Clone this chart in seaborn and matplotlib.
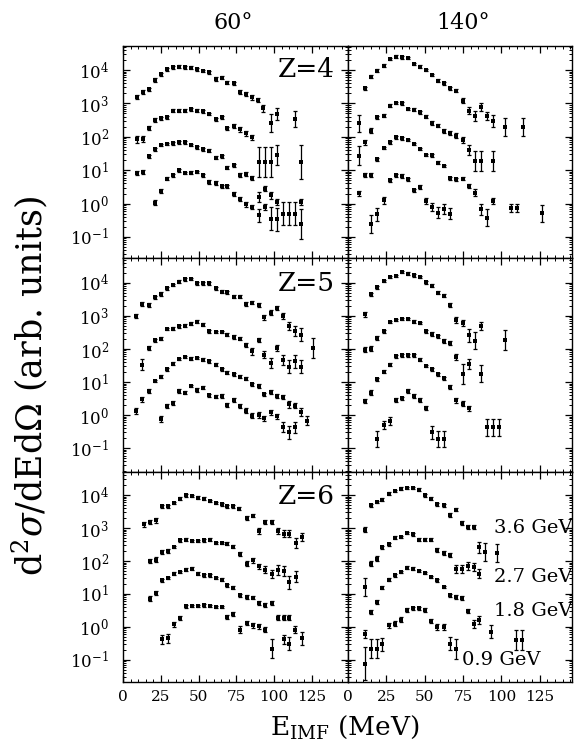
import numpy as np
import pandas as pd
import matplotlib
matplotlib.use("Agg")
import matplotlib.pyplot as plt
import seaborn as sns
from matplotlib.ticker import FixedLocator, MultipleLocator, NullFormatter, LogFormatterSciNotation

# ---------------- data (energies in MeV, values as log10 of cross section, errors in log10 units)
BEAMS = ["3.6 GeV", "2.7 GeV", "1.8 GeV", "0.9 GeV"]
ANGLES = ["60°", "140°"]
ZLABELS = ["Z=4", "Z=5", "Z=6"]
X_TICKS = [0, 25, 50, 75, 100, 125]
Y_TICKS = [1e-1, 1e0, 1e1, 1e2, 1e3, 1e4]

# Z=4, 60 deg
Z4_60_E = [
    [9.5, 13.3, 17.3, 21.5, 25.4, 29.4, 33.2, 37.2, 41.2, 45.0, 49.0, 53.0, 57.0, 61.3, 65.3, 69.2, 73.2, 77.4, 81.4, 85.4, 89.3, 93.0, 98.0, 101.8, 113.9],
    [9.5, 13.3, 17.3, 21.5, 25.4, 29.4, 33.2, 37.2, 41.2, 45.0, 49.0, 53.0, 57.0, 61.3, 65.3, 69.2, 73.2, 77.4, 81.4, 85.4],
    [9.5, 13.3, 17.3, 21.5, 25.4, 29.4, 33.2, 37.2, 41.2, 45.0, 49.0, 53.0, 57.0, 61.3, 65.3, 69.2, 73.2, 77.4, 81.4, 85.4, 89.8, 94.0, 98.0, 101.8, 117.9],
    [21.5, 25.4, 29.4, 33.2, 37.2, 41.2, 45.0, 49.0, 53.0, 57.0, 61.3, 65.3, 69.2, 73.2, 77.4, 81.4, 85.4, 89.8, 89.8, 94.0, 94.0, 98.0, 98.0, 101.8, 101.8, 106.2, 110.2, 114.2, 118.0, 118.0],
]
Z4_60_L = [
    [3.18, 3.33, 3.42, 3.70, 3.87, 4.02, 4.08, 4.10, 4.08, 4.07, 4.02, 3.97, 3.93, 3.73, 3.77, 3.62, 3.60, 3.33, 3.27, 3.18, 3.10, 2.85, 2.40, 2.68, 2.53],
    [1.92, 1.93, 2.25, 2.50, 2.55, 2.58, 2.78, 2.78, 2.78, 2.82, 2.78, 2.76, 2.68, 2.52, 2.58, 2.25, 2.32, 2.22, 2.10, 1.98],
    [0.92, 0.95, 1.42, 1.62, 1.75, 1.78, 1.80, 1.83, 1.83, 1.75, 1.68, 1.62, 1.58, 1.38, 1.42, 1.08, 1.15, 0.85, 0.90, 0.78, 1.25, 1.25, 1.25, 1.45, 1.25],
    [0.03, 0.38, 0.75, 0.85, 1.00, 0.92, 0.93, 0.95, 0.85, 0.65, 0.62, 0.52, 0.52, 0.28, 0.15, -0.02, -0.10, 0.20, -0.35, 0.45, -0.10, 0.25, -0.45, 0.05, -0.47, -0.30, -0.30, -0.30, 0.05, -0.60],
]
Z4_60_D = [
    [.06, .06, .05, .05, .04, .04, .04, .04, .04, .04, .04, .04, .04, .05, .05, .05, .05, .06, .06, .07, .07, .1, .27, .17, .23],
    [.1, .1, .06, .05, .05, .05, .04, .04, .04, .04, .04, .04, .04, .05, .05, .05, .05, .07, .07, .08],
    [.06, .06, .04, .04, .04, .04, .04, .04, .04, .04, .04, .04, .04, .04, .04, .05, .05, .06, .06, .06, .45, .45, .45, .3, .5],
    [.08, .06, .04, .04, .04, .04, .04, .04, .04, .05, .05, .05, .05, .06, .06, .07, .07, .15, .2, .07, .1, .1, .35, .1, .35, .35, .35, .35, .1, .45],
]

# Z=4, 140 deg
Z4_140_E = [
    [11.3, 15.2, 19.0, 23.2, 27.1, 31.0, 35.1, 39.0, 42.9, 47.0, 50.9, 54.8, 58.9, 62.8, 66.7, 70.6, 74.7, 78.6, 82.5, 86.6, 90.5, 94.4, 102.2, 114.3],
    [7.1, 11.3, 15.2, 19.0, 23.2, 27.1, 31.0, 35.1, 39.0, 42.9, 47.0, 50.9, 54.8, 58.9, 62.8, 66.7, 70.6, 74.7, 78.6, 82.5, 86.6, 94.4],
    [7.1, 11.3, 15.2, 19.0, 23.2, 27.1, 31.0, 35.1, 39.0, 42.9, 47.0, 50.9, 54.8, 58.9, 62.8, 66.7, 70.6, 74.7, 78.6, 82.5],
    [7.1, 15.2, 19.0, 23.2, 27.1, 31.0, 35.1, 39.0, 42.9, 47.0, 50.9, 54.8, 58.9, 62.8, 66.7, 86.6, 90.5, 94.4, 106.1, 110.4, 126.2],
]
Z4_140_L = [
    [3.45, 3.80, 3.98, 4.13, 4.33, 4.40, 4.38, 4.36, 4.18, 4.10, 4.00, 3.85, 3.68, 3.60, 3.45, 3.38, 3.08, 2.78, 2.63, 2.88, 2.63, 2.48, 2.30, 2.28],
    [2.40, 1.83, 2.18, 2.58, 2.63, 2.93, 3.01, 3.00, 2.83, 2.81, 2.73, 2.60, 2.41, 2.33, 2.16, 2.10, 2.03, 1.90, 1.60, 1.28, 1.28, 1.28],
    [1.43, 0.85, 0.85, 1.33, 1.66, 1.83, 1.98, 1.95, 1.90, 1.78, 1.63, 1.46, 1.45, 1.23, 1.13, 0.76, 0.73, 0.75, 0.53, 0.33],
    [0.31, -0.62, -0.32, 0.10, 0.70, 0.85, 0.83, 0.73, 0.40, 0.50, 0.08, -0.09, -0.27, -0.17, -0.30, -0.17, -0.42, 0.08, -0.12, -0.12, -0.29],
]
Z4_140_D = [
    [.05, .04, .04, .04, .04, .04, .04, .04, .04, .04, .04, .04, .04, .04, .05, .05, .07, .1, .15, .12, .12, .18, .27, .27],
    [.25, .08, .07, .05, .05, .04, .04, .04, .04, .04, .04, .05, .05, .05, .06, .06, .07, .1, .15, .3, .3, .3],
    [.28, .06, .06, .04, .04, .04, .04, .04, .04, .04, .04, .04, .04, .04, .04, .05, .05, .05, .07, .1],
    [.08, .27, .2, .1, .05, .05, .05, .05, .05, .05, .1, .12, .17, .15, .17, .17, .25, .1, .12, .12, .25],
]

# Z=5, 60 deg
Z5_60_E = [
    [8.8, 12.8, 17.3, 21.0, 25.0, 29.4, 33.2, 37.2, 41.2, 44.9, 49.1, 53.1, 56.9, 61.3, 65.3, 69.2, 73.2, 77.4, 81.4, 85.4, 89.8, 93.4, 98.0, 101.8, 106.0, 110.0, 113.9, 117.9, 126.1],
    [12.8, 17.3, 21.0, 25.0, 29.4, 33.2, 37.2, 41.2, 44.9, 49.1, 53.1, 56.9, 61.3, 65.3, 69.2, 73.2, 77.4, 81.4, 85.4, 89.8, 93.4, 98.0, 101.8, 106.0, 110.0, 113.9, 117.9],
    [8.8, 12.8, 17.3, 21.0, 25.0, 29.4, 33.2, 37.2, 41.2, 44.9, 49.1, 53.1, 56.9, 61.3, 65.3, 69.2, 73.2, 77.4, 81.4, 85.4, 89.8, 93.4, 98.0, 101.8, 106.0, 110.0, 113.9, 117.9, 121.7],
    [25.0, 29.4, 33.2, 37.2, 41.2, 44.9, 49.1, 53.1, 56.9, 61.3, 65.3, 69.2, 73.2, 77.4, 81.4, 85.4, 89.8, 93.4, 98.0, 101.8, 106.0, 110.0, 113.9],
]
Z5_60_L = [
    [3.00, 3.36, 3.33, 3.56, 3.66, 3.83, 3.93, 4.03, 4.10, 4.11, 3.98, 3.98, 3.98, 3.83, 3.73, 3.71, 3.58, 3.58, 3.36, 3.40, 3.33, 2.96, 3.10, 3.23, 3.00, 2.68, 2.53, 2.43, 2.03],
    [1.53, 2.03, 2.26, 2.31, 2.60, 2.61, 2.68, 2.70, 2.76, 2.83, 2.73, 2.53, 2.51, 2.51, 2.43, 2.36, 2.31, 2.13, 1.93, 2.26, 1.83, 1.58, 2.03, 1.68, 1.46, 1.63, 1.46],
    [0.13, 0.48, 0.73, 1.03, 1.16, 1.38, 1.56, 1.70, 1.76, 1.71, 1.73, 1.68, 1.63, 1.53, 1.38, 1.28, 1.23, 1.16, 1.10, 0.93, 0.88, 0.63, 0.71, 0.58, 0.56, 0.33, 0.28, 0.10, -0.17],
    [-0.12, 0.28, 0.36, 0.73, 0.68, 0.88, 0.76, 0.83, 0.60, 0.56, 0.58, 0.30, 0.46, 0.28, 0.13, -0.02, 0.00, -0.10, 0.08, -0.04, -0.37, -0.52, -0.37],
]
Z5_60_D = [
    [.06, .06, .06, .05, .05, .04, .04, .04, .04, .04, .04, .04, .04, .04, .04, .05, .05, .05, .05, .05, .05, .08, .07, .06, .08, .12, .15, .2, .3],
    [.18, .06, .05, .05, .04, .04, .04, .04, .04, .04, .04, .04, .04, .04, .05, .05, .05, .06, .1, .06, .1, .15, .08, .15, .2, .2, .2],
    [.1, .07, .05, .04, .04, .04, .04, .04, .04, .04, .04, .04, .04, .04, .04, .04, .04, .04, .04, .05, .05, .05, .06, .06, .06, .1, .08, .12, .13],
    [.1, .06, .06, .05, .05, .04, .05, .05, .05, .05, .05, .06, .06, .06, .08, .08, .08, .08, .08, .08, .15, .2, .16],
]

# Z=5, 140 deg
Z5_140_E = [
    [11.3, 15.2, 19.0, 23.2, 27.1, 31.0, 35.1, 39.0, 42.9, 47.0, 50.9, 54.8, 58.9, 62.8, 66.7, 70.6, 74.7, 78.6, 82.5, 86.6, 102.2],
    [11.3, 15.2, 19.0, 23.2, 27.1, 31.0, 35.1, 39.0, 42.9, 47.0, 50.9, 54.8, 58.9, 62.8, 66.7, 70.6, 74.7, 78.6, 86.6],
    [11.3, 15.2, 19.0, 23.2, 27.1, 31.0, 35.1, 39.0, 42.9, 47.0, 50.9, 54.8, 58.9, 62.8, 66.7, 70.6, 74.7, 78.6],
    [19.0, 23.2, 27.1, 31.0, 35.1, 39.0, 42.9, 47.0, 50.9, 54.8, 58.9, 62.8, 90.5, 94.4, 98.3],
]
Z5_140_L = [
    [3.05, 3.65, 3.86, 4.05, 4.18, 4.21, 4.33, 4.28, 4.23, 4.18, 4.01, 3.91, 3.70, 3.61, 3.33, 2.88, 2.78, 2.41, 2.25, 2.68, 2.26],
    [1.98, 2.01, 2.33, 2.53, 2.81, 2.88, 2.91, 2.91, 2.83, 2.78, 2.53, 2.45, 2.38, 2.23, 2.18, 1.76, 1.25, 1.55, 1.25],
    [0.43, 0.68, 1.08, 1.31, 1.53, 1.78, 1.81, 1.81, 1.81, 1.68, 1.48, 1.38, 1.23, 1.11, 0.85, 0.45, 0.35, 0.20],
    [-0.72, -0.29, -0.17, 0.45, 0.51, 0.73, 0.58, 0.45, 0.21, -0.52, -0.72, -0.72, -0.37, -0.37, -0.37],
]
Z5_140_D = [
    [.08, .05, .04, .04, .04, .04, .04, .04, .04, .04, .04, .04, .05, .05, .06, .1, .1, .2, .25, .12, .3],
    [.07, .07, .05, .05, .04, .04, .04, .04, .04, .04, .05, .05, .05, .06, .06, .1, .3, .15, .25],
    [.07, .07, .04, .04, .04, .04, .04, .04, .04, .04, .04, .04, .04, .04, .06, .07, .08, .08],
    [.25, .12, .12, .06, .05, .05, .06, .06, .07, .2, .25, .25, .25, .25, .25],
]

# Z=6, 60 deg
Z6_60_E = [
    [14.1, 18.0, 21.8, 25.7, 29.9, 33.8, 37.6, 41.5, 45.5, 49.7, 53.6, 57.6, 61.3, 65.3, 69.0, 73.0, 76.7, 82.2, 85.9, 90.3, 94.3, 98.7, 102.4, 106.4, 110.1, 114.5, 118.5],
    [18.0, 21.8, 25.7, 29.9, 33.8, 37.6, 41.5, 45.5, 49.7, 53.6, 57.6, 61.3, 65.3, 69.0, 73.0, 77.8, 82.2, 85.9, 90.3, 94.3, 98.7, 102.4, 106.4, 110.1, 114.5],
    [18.0, 21.8, 25.7, 29.9, 33.8, 37.6, 41.5, 45.5, 49.7, 53.6, 57.6, 61.3, 65.3, 69.0, 73.0, 77.8, 82.2, 85.9, 90.3, 94.3, 98.7],
    [25.7, 29.9, 33.8, 37.6, 41.5, 45.5, 49.7, 53.6, 57.6, 61.3, 65.3, 69.0, 73.0, 77.8, 82.2, 85.9, 90.3, 94.3, 98.7, 102.4, 106.4, 106.4, 110.1, 110.1, 114.1, 118.5],
]
Z6_60_L = [
    [3.11, 3.18, 3.23, 3.66, 3.66, 3.76, 3.89, 3.99, 3.97, 3.92, 3.89, 3.82, 3.76, 3.72, 3.66, 3.66, 3.59, 3.31, 3.38, 2.91, 3.18, 3.18, 2.91, 2.83, 2.83, 2.55, 2.73],
    [2.00, 2.04, 2.27, 2.30, 2.42, 2.63, 2.65, 2.61, 2.61, 2.63, 2.65, 2.55, 2.55, 2.53, 2.44, 2.20, 1.92, 2.02, 1.84, 1.74, 1.60, 1.74, 1.70, 1.36, 1.52],
    [0.86, 1.03, 1.41, 1.49, 1.62, 1.67, 1.74, 1.77, 1.62, 1.57, 1.57, 1.49, 1.43, 1.26, 1.19, 0.96, 0.91, 0.89, 0.73, 0.66, 0.73],
    [-0.38, -0.35, 0.08, 0.28, 0.63, 0.63, 0.63, 0.66, 0.63, 0.61, 0.61, 0.30, 0.38, -0.08, 0.12, 0.05, 0.02, -0.08, -0.66, 0.28, 0.28, -0.38, 0.28, -0.51, -0.08, -0.35],
]
Z6_60_D = [
    [.07, .07, .07, .05, .05, .04, .04, .04, .04, .04, .04, .04, .04, .04, .04, .04, .05, .06, .06, .1, .06, .06, .08, .1, .1, .15, .13],
    [.07, .07, .05, .05, .04, .04, .04, .04, .04, .04, .04, .04, .04, .04, .05, .06, .07, .07, .08, .1, .12, .15, .15, .2, .17],
    [.07, .06, .05, .04, .04, .04, .04, .04, .04, .04, .04, .04, .04, .05, .05, .05, .05, .05, .06, .06, .06],
    [.15, .15, .08, .06, .05, .04, .04, .04, .04, .04, .04, .06, .06, .1, .07, .07, .07, .08, .28, .08, .08, .15, .08, .2, .1, .2],
]

# Z=6, 140 deg
Z6_140_E = [
    [10.8, 14.9, 18.8, 22.4, 26.7, 30.6, 34.5, 38.6, 42.5, 46.3, 50.4, 54.3, 58.2, 62.3, 66.2, 70.5, 74.1, 78.0, 81.9, 85.6, 89.4, 97.4],
    [14.9, 18.8, 22.4, 26.7, 30.6, 34.5, 38.6, 42.5, 46.3, 50.4, 54.3, 58.2, 62.3, 66.2, 70.5, 74.1, 78.0, 81.9, 85.6],
    [10.8, 14.9, 18.8, 22.4, 26.7, 30.6, 34.5, 38.6, 42.5, 46.3, 50.4, 54.3, 58.2, 62.3, 66.2, 70.5, 74.1, 78.0, 81.9, 85.6, 93.5, 109.3, 113.6],
    [10.8, 10.8, 14.9, 18.8, 22.4, 26.7, 30.6, 34.5, 38.6, 42.5, 46.3, 50.4, 54.3, 58.2, 62.3, 66.2, 70.5],
]
Z6_140_L = [
    [2.95, 3.69, 3.79, 3.86, 4.04, 4.12, 4.19, 4.22, 4.22, 4.16, 3.99, 3.89, 3.72, 3.69, 3.40, 3.56, 3.15, 3.03, 3.03, 2.42, 2.27, 2.24],
    [1.92, 2.07, 2.42, 2.51, 2.71, 2.73, 2.85, 2.81, 2.65, 2.65, 2.65, 2.32, 2.24, 2.17, 1.77, 1.77, 1.84, 1.82, 1.62],
    [1.21, 0.45, 0.76, 1.19, 1.43, 1.57, 1.67, 1.80, 1.77, 1.70, 1.64, 1.52, 1.41, 1.21, 0.96, 0.91, 0.89, 0.48, 0.08, 0.22, -0.15, -0.40, -0.40],
    [-0.22, -1.11, -0.66, -0.66, -0.53, 0.05, 0.10, 0.22, 0.51, 0.56, 0.56, 0.51, 0.18, 0.00, 0.00, -0.51, -0.66],
]
Z6_140_D = [
    [.07, .04, .04, .04, .04, .04, .04, .04, .04, .04, .04, .04, .04, .04, .05, .05, .07, .07, .07, .17, .28, .28],
    [.07, .07, .05, .05, .04, .04, .04, .04, .04, .04, .04, .06, .06, .06, .12, .12, .12, .12, .15],
    [.27, .06, .05, .04, .04, .04, .04, .04, .04, .04, .04, .04, .04, .04, .05, .05, .06, .06, .12, .12, .2, .3, .3],
    [.12, .5, .28, .28, .2, .08, .07, .07, .05, .05, .05, .05, .07, .1, .1, .2, .3],
]

PANELS = [
    [(Z4_60_E, Z4_60_L, Z4_60_D), (Z4_140_E, Z4_140_L, Z4_140_D)],
    [(Z5_60_E, Z5_60_L, Z5_60_D), (Z5_140_E, Z5_140_L, Z5_140_D)],
    [(Z6_60_E, Z6_60_L, Z6_60_D), (Z6_140_E, Z6_140_L, Z6_140_D)],
]

# ---------------- style
sns.set_style("ticks")
plt.rcParams["font.family"] = ["DejaVu Serif"]
plt.rcParams["mathtext.fontset"] = "dejavuserif"
plt.rcParams["axes.linewidth"] = 1.0
for key in ["text.color", "axes.labelcolor", "xtick.color", "ytick.color", "axes.edgecolor"]:
    plt.rcParams[key] = "black"

fig = plt.figure(figsize=(5.75, 7.46), dpi=100)
gs = fig.add_gridspec(3, 2, left=123 / 575, right=572 / 575, top=1 - 46 / 746, bottom=1 - 682 / 746,
                      hspace=0, wspace=0, height_ratios=[212, 214, 210], width_ratios=[225, 224])

ROW_YLIM = [(-1.63, 4.72), (-1.72, 4.75), (-1.67, 4.70)]
COL_XLIM = [(0, 149), (0, 146)]
Z_YPOS = [0.887, 0.883, 0.881]

minor_y = [m * 10.0 ** k for k in range(-2, 5) for m in range(2, 10)]

for r in range(3):
    for c in range(2):
        ax = fig.add_subplot(gs[r, c])
        E, L, D = PANELS[r][c]
        rows = []
        for s in range(4):
            for e, l, d in zip(E[s], L[s], D[s]):
                rows.append({"E": e, "y": 10 ** l, "lo": 10 ** (l - d), "hi": 10 ** (l + d), "beam": BEAMS[s]})
        df = pd.DataFrame(rows)
        ax.errorbar(df["E"], df["y"], yerr=[df["y"] - df["lo"], df["hi"] - df["y"]], fmt="none",
                    ecolor="black", elinewidth=0.9, capsize=1.7, capthick=0.9, zorder=2)
        sns.scatterplot(data=df, x="E", y="y", ax=ax, color="black", marker="s", s=7,
                        linewidth=0, legend=False, zorder=3)
        ax.set_yscale("log")
        ylo, yhi = 10 ** ROW_YLIM[r][0], 10 ** ROW_YLIM[r][1]
        ax.set_ylim(ylo, yhi)
        ax.set_xlim(*COL_XLIM[c])
        ax.set_xlabel("")
        ax.set_ylabel("")
        ax.xaxis.set_major_locator(FixedLocator(X_TICKS))
        ax.xaxis.set_minor_locator(MultipleLocator(5))
        ax.yaxis.set_major_locator(FixedLocator(Y_TICKS))
        ax.yaxis.set_minor_locator(FixedLocator([v for v in minor_y if ylo < v < yhi]))
        ax.yaxis.set_minor_formatter(NullFormatter())
        ax.yaxis.set_major_formatter(LogFormatterSciNotation())
        ax.tick_params(which="both", direction="in", top=True, right=True, color="black")
        ax.tick_params(which="major", length=5, width=0.9)
        ax.tick_params(which="minor", length=2.5, width=0.7)
        ax.tick_params(axis="y", labelsize=12, pad=10)
        ax.tick_params(axis="x", labelsize=11, pad=6)
        if c == 1:
            ax.tick_params(axis="y", labelleft=False)
        if r < 2:
            ax.tick_params(axis="x", labelbottom=False)
        for sp in ax.spines.values():
            sp.set_visible(True)
            sp.set_color("black")
            sp.set_linewidth(1.0)
        if c == 0:
            ax.text(0.942, Z_YPOS[r], ZLABELS[r], transform=ax.transAxes, ha="right", va="center",
                    fontsize=19)
        if r == 2 and c == 1:
            ax.text(1.0, 0.733, BEAMS[0], transform=ax.transAxes, ha="right", va="center", fontsize=14)
            ax.text(1.0, 0.500, BEAMS[1], transform=ax.transAxes, ha="right", va="center", fontsize=14)
            ax.text(1.0, 0.338, BEAMS[2], transform=ax.transAxes, ha="right", va="center", fontsize=14)
            ax.text(0.509, 0.105, BEAMS[3], transform=ax.transAxes, ha="left", va="center", fontsize=14)

fig.text(233 / 575, 1 - 23 / 746, ANGLES[0], ha="center", va="center", fontsize=16)
fig.text(463 / 575, 1 - 23 / 746, ANGLES[1], ha="center", va="center", fontsize=16)
fig.text(345 / 575, 1 - 735 / 746, r"E$_{\mathrm{IMF}}$ (MeV)", ha="center", va="baseline", fontsize=19)
fig.text(30 / 575, 1 - 386 / 746, r"d$^{2}\sigma$/dEd$\Omega$ (arb. units)", rotation=90,
         ha="center", va="center", fontsize=25)

fig.savefig("out.png", dpi=100)
